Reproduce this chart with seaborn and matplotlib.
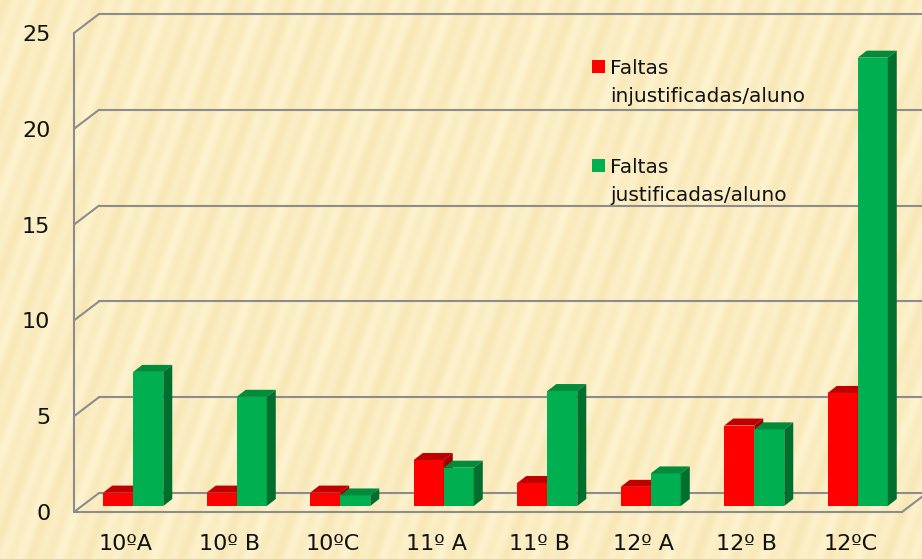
import numpy as np
import pandas as pd
import matplotlib
matplotlib.use('Agg')
import matplotlib.pyplot as plt
import seaborn as sns
from matplotlib.patches import Polygon, Rectangle
from matplotlib.lines import Line2D

# values
turmas = ['10ºA', '10º B', '10ºC', '11º A', '11º B', '12º A', '12º B', '12ºC']
injustificadas = [0.7, 0.7, 0.7, 2.4, 1.2, 1.0, 4.2, 5.9]
justificadas = [7.0, 5.7, 0.55, 2.0, 6.0, 1.7, 4.0, 23.4]
series = ['Faltas injustificadas/aluno', 'Faltas justificadas/aluno']
y_ticks = [0, 5, 10, 15, 20, 25]

W, H = 922, 559
FRONT = '#FF0000', '#00B050'
TOP = '#C00000', '#008C3A'
SIDE = '#A00000', '#006F2E'
GRID = '#8C8C8C'


def px(x, y):  # pixel position -> figure fraction (y measured from top)
    return x / W, 1 - y / H


def to_fig(fig, ax, x, y):  # data -> figure fraction
    dx, dy = ax.transData.transform((x, y))
    return fig.transFigure.inverted().transform((dx, dy))


def add_background(fig):  # diagonal striped beige paper
    yy, xx = np.mgrid[0:H, 0:W]
    u = xx + yy * np.tan(np.radians(20))
    wave = 0.55 * np.sin(2 * np.pi * u / 19) + 0.45 * np.sin(2 * np.pi * u / 47 + 1.0)
    t = (0.5 + 0.5 * wave)[..., None]
    light = np.array([253, 243, 207]) / 255
    dark = np.array([248, 231, 182]) / 255
    img = light + (dark - light) * t
    bg = fig.add_axes([0, 0, 1, 1], zorder=-10)
    bg.imshow(img, aspect='auto', interpolation='bilinear')
    bg.axis('off')


def draw_frame(fig, ax, depth):  # back wall gridlines, left wall and floor
    bx, by = depth
    ox, oy = bx / W, by / H
    style = dict(color=GRID, lw=1.5, zorder=-5)
    for t in y_ticks:
        x0, y0 = to_fig(fig, ax, -0.5, t)
        x1, y1 = to_fig(fig, ax, 7.5, t)
        fig.add_artist(Line2D([x0 + ox, x1 + ox], [y0 + oy, y1 + oy], **style))
        fig.add_artist(Line2D([x0, x0 + ox], [y0, y0 + oy], **style))
    x0, y0 = to_fig(fig, ax, -0.5, 0)
    x1, y1 = to_fig(fig, ax, 7.5, 0)
    fig.add_artist(Line2D([x0, x1], [y0, y1], **style))
    fig.add_artist(Line2D([x1, x1 + ox], [y1, y1 + oy], **style))
    xt, yt = to_fig(fig, ax, -0.5, 25)
    fig.add_artist(Line2D([x0, xt], [y0, yt], **style))


def add_faces(fig, ax, depth):  # top and side faces that give the bars a 3D look
    dx, dy = depth[0] / W, depth[1] / H
    n = len(turmas)
    for k, patch in enumerate(ax.patches[:2 * n]):
        s = k // n
        x0, x1 = patch.get_x(), patch.get_x() + patch.get_width()
        top = patch.get_height()
        a = to_fig(fig, ax, x0, top)
        b = to_fig(fig, ax, x1, top)
        c = to_fig(fig, ax, x1, 0)
        z = 2 + s
        patch.set_zorder(z)
        top_face = [a, b, (b[0] + dx, b[1] + dy), (a[0] + dx, a[1] + dy)]
        side_face = [c, b, (b[0] + dx, b[1] + dy), (c[0] + dx, c[1] + dy)]
        ax.add_patch(Polygon(top_face, closed=True, transform=fig.transFigure,
                             facecolor=TOP[s], edgecolor='none', zorder=z + 0.1, clip_on=False))
        ax.add_patch(Polygon(side_face, closed=True, transform=fig.transFigure,
                             facecolor=SIDE[s], edgecolor='none', zorder=z + 0.1, clip_on=False))


def add_legend(fig):
    entries = [(60, 'Faltas', 'injustificadas/aluno'), (159, 'Faltas', 'justificadas/aluno')]
    for s, (y, l1, l2) in enumerate(entries):
        x0, y0 = px(592, y + 13)
        fig.add_artist(Rectangle((x0, y0), 13 / W, 13 / H, transform=fig.transFigure,
                                 facecolor=FRONT[s], edgecolor='none'))
        fig.text(*px(610, y + 14), l1, fontsize=14.5, color='#111111', va='baseline')
        fig.text(*px(610, y + 42), l2, fontsize=14.5, color='#111111', va='baseline')


def main():
    sns.set_theme(style='white')
    plt.rcParams['font.family'] = ['DejaVu Sans']

    df = pd.DataFrame({
        'turma': turmas * 2,
        'tipo': [series[0]] * len(turmas) + [series[1]] * len(turmas),
        'valor': injustificadas + justificadas,
    })

    fig = plt.figure(figsize=(W / 100, H / 100), dpi=100)
    add_background(fig)

    # front plane of the chart carries the axis labels
    left, bottom, right, top = 74, 512, 902, 33
    ax = fig.add_axes([left / W, 1 - bottom / H, (right - left) / W, (bottom - top) / H])
    ax.set_facecolor('none')
    ax.set_xlim(-0.5, 7.5)
    ax.set_ylim(0, 25)
    ax.set_xticks(range(len(turmas)))
    ax.set_xticklabels(turmas, fontsize=16, color='#111111')
    ax.set_yticks(y_ticks)
    ax.set_yticklabels([str(t) for t in y_ticks], fontsize=16, color='#111111')
    ax.tick_params(axis='x', length=0, pad=16)
    ax.tick_params(axis='y', length=0, pad=17)
    for sp in ax.spines.values():
        sp.set_visible(False)

    # bars sit a bit deeper in the box
    bar_dx, bar_dy = 7.5, 6
    bax = fig.add_axes([(left + bar_dx) / W, 1 - (bottom - bar_dy) / H,
                        (right - left) / W, (bottom - top) / H])
    bax.set_facecolor('none')
    sns.barplot(data=df, x='turma', y='valor', hue='tipo', hue_order=series,
                palette=list(FRONT), saturation=1, width=0.58, edgecolor='none',
                legend=False, ax=bax)
    bax.set_xlim(-0.5, 7.5)
    bax.set_ylim(0, 25)
    bax.axis('off')

    draw_frame(fig, ax, (25, 19))
    add_faces(fig, bax, (9, 7))
    add_legend(fig)

    fig.savefig('out.png', dpi=100)


if __name__ == '__main__':
    main()
